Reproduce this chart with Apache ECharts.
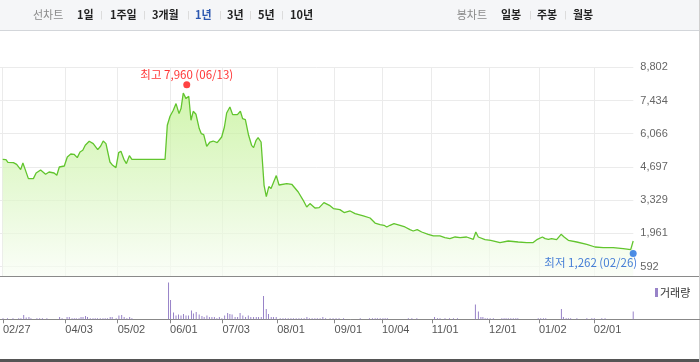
<!DOCTYPE html>
<html><head><meta charset="utf-8">
<script src="https://cdn.jsdelivr.net/npm/echarts@6/dist/echarts.min.js"></script>
<style>html,body{margin:0;padding:0;background:#fff}#c{width:700px;height:362px}</style>
</head><body><div id="c"></div>
<script>
// ---- data (trading-day index from 02/27) ----
const priceDays = [0,1.3,2.1,4.3,5.6,7.2,8.1,8.9,10.3,12.3,
13.4,15.2,17.2,18.6,20.6,21.7,22.7,24.7,25.9,27.3,
28.6,29.9,31.0,32.1,33.1,34.7,36.3,38.1,39.3,40.3,
41.4,43.0,44.1,45.4,46.5,47.4,48.6,49.6,50.8,51.8,
65.1,66.0,67.1,68.4,69.5,70.7,71.5,72.4,73.5,74.6,
75.5,76.4,77.5,78.8,79.6,80.6,81.8,83.1,84.4,86.0,
87.8,88.9,89.8,91.1,92.2,94.1,95.3,96.2,97.3,98.6,
99.8,100.6,101.6,102.4,103.6,104.8,105.7,106.7,107.6,109.7,
110.8,113.9,115.9,118.5,120.5,121.9,123.2,125.2,126.9,128.8,
131.0,132.6,135.2,136.9,139.3,141.3,144.6,147.3,149.3,151.3,
152.9,154.0,155.3,156.9,159.3,161.3,163.3,164.6,166.2,168.0,
170.6,172.7,175.3,177.3,179.3,181.4,183.4,186.0,188.7,189.7,
190.7,193.4,195.7,196.5,199.4,202.7,206.7,210.1,212.7,214.4,
216.4,217.5,218.8,220.1,222.1,222.8,223.9,225.1,226.8,230.2,
234.2,237.5,240.8,244.8,248.8,251.8,252.8];
const prices = [5014,5002,4890,4878,4808,4590,4862,4631,4219,4219,
4450,4573,4396,4491,4450,4355,4697,4738,5109,5232,
5220,5084,5315,5385,5590,5755,5660,5413,5562,5767,
5660,4903,4767,4672,5290,5343,5014,4837,5166,5014,
5014,6414,6784,7031,7307,6895,7101,7744,7513,7608,
6620,6990,6867,6278,6072,6031,5549,5726,5767,5702,
5932,6344,6920,7167,6854,6854,6990,6690,6649,6002,
5590,5496,5796,5907,5726,3944,3478,3890,3808,4343,
3956,4014,3985,3668,3326,3050,3190,3009,3026,3232,
3120,2984,2943,2820,2886,2779,2680,2597,2391,2326,
2297,2227,2297,2367,2297,2227,2120,2062,2120,2021,
1926,1857,1857,1791,1750,1815,1791,1815,1721,2021,
1815,1708,1679,1609,1584,1650,1609,1584,1584,1720,
1815,1749,1720,1749,1708,1749,1926,1815,1679,1609,
1514,1403,1378,1378,1337,1296,1650];
const volDays = [0,1.8,4.0,6.3,7.2,8.3,9.3,10.4,11.2,13.6,14.7,15.8,17.6,22.7,23.7,25.7,26.6,27.7,28.6,29.4,
30.5,31.3,32.1,33.1,33.9,35.0,36.1,37.0,37.9,39.0,40.1,41.0,41.9,43.0,43.8,45.4,46.5,47.6,48.6,49.7,
50.8,51.7,66.4,67.2,68.4,69.4,70.4,71.4,72.4,73.4,74.4,75.6,76.4,77.5,78.7,79.8,80.7,81.8,82.8,83.8,
84.8,85.8,86.8,87.8,88.9,90.1,91.0,91.9,93.1,94.1,95.1,96.2,97.3,98.4,99.4,100.5,101.6,102.5,103.6,104.5,
105.6,106.5,107.6,108.5,109.6,111.2,112.3,113.3,114.4,115.5,116.5,117.6,118.7,119.7,120.8,121.9,122.9,124.0,125.1,126.1,
127.2,128.3,129.4,131.2,132.4,133.6,134.8,136.6,143.3,147.0,148.2,149.3,150.2,151.3,152.4,153.3,154.2,162.6,164.0,166.0,
173.1,174.3,175.3,177.3,179.1,180.7,182.3,189.5,190.7,191.7,192.5,193.4,194.3,195.4,196.7,200.1,201.0,201.8,202.7,203.7,
204.7,205.7,206.5,214.7,215.7,216.8,217.7,224.0,224.8,225.9,226.8,227.7,230.2,234.2,236.2,237.2,240.2,241.5,252.8];
const volumes = [10,10,10,10,10,43,17,23,10,10,10,10,10,23,10,23,23,10,10,10,
10,23,23,33,23,10,10,10,10,10,10,10,10,23,23,10,37,43,23,10,
23,10,367,193,67,37,47,37,53,37,37,87,57,73,47,33,23,37,23,23,
23,10,23,10,37,63,53,47,23,23,63,37,23,37,23,23,23,23,23,233,
103,53,23,23,23,10,10,10,10,10,10,10,10,10,10,23,10,10,10,10,
10,23,10,10,10,10,10,10,10,10,10,10,10,10,10,10,10,10,10,10,
23,10,10,10,10,10,10,147,77,23,23,10,10,10,10,10,10,10,10,10,
10,10,10,10,10,10,10,103,23,10,10,10,10,10,10,10,10,10,77];
const tickDays = [0,25,46,67,88,110,133,152,172,195,215,237];
const tickLabels = ['02/27','04/03','05/02','06/01','07/03','08/01','09/01','10/04','11/01','12/01','01/02','02/01'];
const yTicks = [592,1961,3329,4697,6066,7434,8802];
const highPoint = {day:73.8, value:7960, date:'06/13'};
const lowPoint = {day:252.8, value:1262, date:'02/26'};
const periodLabel = '선차트';
const periodTabs = ['1일','1주일','3개월','1년','3년','5년','10년'];
const selectedTab = '1년';
const candleLabel = '봉차트';
const candleTabs = ['일봉','주봉','월봉'];
const volumeName = '거래량';

// ---- layout ----
const PX_PER_DAY = 2.494;
const X_MIN = -2.7 / PX_PER_DAY;
const MAIN_W = 633.3;
const Y_MIN = 209, Y_MAX = 8802, VOL_MAX = 423;
const periodX = [77,110,152,195,227,258,290];
const periodSepX = [101.5,144.5,188.5,220.5,250.5,282.5];
const candleX = [501,537,573];
const candleSepX = [530.5,565.5];
const KR = '"Noto Sans CJK KR","Noto Sans",sans-serif';
const fmt = v => Math.round(v).toLocaleString('en-US');

const graphics = [
  {type:'rect', shape:{x:0,y:0,width:700,height:30}, style:{fill:'#f5f6f8'}, silent:true},
  {type:'line', shape:{x1:0,y1:30.5,x2:700,y2:30.5}, style:{stroke:'#d3d6da',lineWidth:1}},
  {type:'line', shape:{x1:0,y1:276.5,x2:700,y2:276.5}, style:{stroke:'#8a8a8a',lineWidth:1}},
  {type:'rect', shape:{x:0,y:359,width:700,height:3}, style:{fill:'#555'}},
  {type:'line', shape:{x1:699.5,y1:0,x2:699.5,y2:362}, style:{stroke:'#cfcfcf',lineWidth:1}},
  {type:'text', x:33, y:15, style:{text:periodLabel, fill:'#8a8a8a', font:'11px '+KR, verticalAlign:'middle'}},
  {type:'text', x:456.7, y:15, style:{text:candleLabel, fill:'#8a8a8a', font:'11px '+KR, verticalAlign:'middle'}}
];
periodTabs.forEach((t,i)=>graphics.push({type:'text', x:periodX[i], y:15,
  style:{text:t, fill: t===selectedTab ? '#2c57b0' : '#222', font:'bold 11px '+KR, verticalAlign:'middle'}}));
candleTabs.forEach((t,i)=>graphics.push({type:'text', x:candleX[i], y:15,
  style:{text:t, fill:'#222', font:'bold 11px '+KR, verticalAlign:'middle'}}));
periodSepX.concat(candleSepX).forEach(x=>graphics.push({type:'line',
  shape:{x1:x,y1:11,x2:x,y2:19.5}, style:{stroke:'#dcdcdc',lineWidth:1}}));

const chart = echarts.init(document.getElementById('c'), null, {renderer:'canvas'});
chart.setOption({
  animation:false,
  graphic: graphics,
  legend:{data:[volumeName], left:650, top:282, icon:'rect', itemWidth:3, itemHeight:9, itemGap:0,
    textStyle:{fontSize:11, color:'#333', fontFamily:KR, padding:[0,0,0,-3]}},
  grid:[
    {left:0, width:MAIN_W, top:67.3, bottom:86},
    {left:0, right:0, top:277, bottom:42.7}
  ],
  xAxis:[
    {type:'value', gridIndex:0, min:X_MIN, max:X_MIN + MAIN_W/PX_PER_DAY,
      axisLine:{show:false}, axisTick:{show:false, customValues:tickDays}, axisLabel:{show:false},
      splitLine:{show:true, lineStyle:{color:'#ebebeb', width:1}}},
    {type:'value', gridIndex:1, min:X_MIN, max:X_MIN + 700/PX_PER_DAY,
      axisLine:{show:true, onZero:false, lineStyle:{color:'#888', width:1}},
      axisTick:{show:true, customValues:tickDays, length:4, lineStyle:{color:'#888'}},
      axisLabel:{show:true, customValues:tickDays, align:'left', margin:5, color:'#555', fontSize:11,
        fontFamily:'"Liberation Sans",Arial,sans-serif',
        formatter: v => { const i = tickDays.indexOf(v); return i>=0 ? tickLabels[i] : ''; }},
      splitLine:{show:false}}
  ],
  yAxis:[
    {type:'value', gridIndex:0, position:'right', min:Y_MIN, max:Y_MAX,
      axisLine:{show:false}, axisTick:{show:false, customValues:yTicks},
      axisLabel:{customValues:yTicks, formatter:v=>fmt(v), color:'#666', fontSize:11, margin:7,
        fontFamily:'"Liberation Sans",Arial,sans-serif'},
      splitLine:{show:true, lineStyle:{color:'#ebebeb', width:1}}},
    {type:'value', gridIndex:1, min:0, max:VOL_MAX, show:false, splitLine:{show:false}}
  ],
  series:[
    {type:'line', name:'price', xAxisIndex:0, yAxisIndex:0,
      data: priceDays.map((d,i)=>[d, prices[i]]),
      showSymbol:false, symbol:'none', smooth:false,
      lineStyle:{color:'#62c52e', width:1.3},
      areaStyle:{color:{type:'linear',x:0,y:0,x2:0,y2:1,colorStops:[
        {offset:0,color:'#bdf08b'},{offset:0.55,color:'#dcf6c5'},{offset:1,color:'#f8fdf4'}]}},
      z:2},
    {type:'scatter', name:'high', xAxisIndex:0, yAxisIndex:0,
      data:[[highPoint.day, highPoint.value]], symbolSize:7, symbolOffset:[0,-3],
      itemStyle:{color:'#ff1414'}, z:5,
      label:{show:true, position:'top', distance:1, color:'#f00', fontSize:11.5, fontFamily:KR,
        formatter:()=>'최고 '+fmt(highPoint.value)+' ('+highPoint.date+')'}},
    {type:'scatter', name:'low', xAxisIndex:0, yAxisIndex:0,
      data:[[lowPoint.day, lowPoint.value]], symbolSize:7, symbolOffset:[0,3],
      itemStyle:{color:'#1f6fe0'}, z:5,
      label:{show:true, position:'bottom', distance:0, align:'right', offset:[4,0], color:'#1a5fd0', fontSize:11.5, fontFamily:KR,
        formatter:()=>'최저 '+fmt(lowPoint.value)+' ('+lowPoint.date+')'}},
    {type:'bar', name:volumeName, xAxisIndex:1, yAxisIndex:1,
      data: volDays.map((d,i)=>[d, volumes[i]]), barWidth:1,
      itemStyle:{color:'#9883c8'}}
  ]
});
</script></body></html>
